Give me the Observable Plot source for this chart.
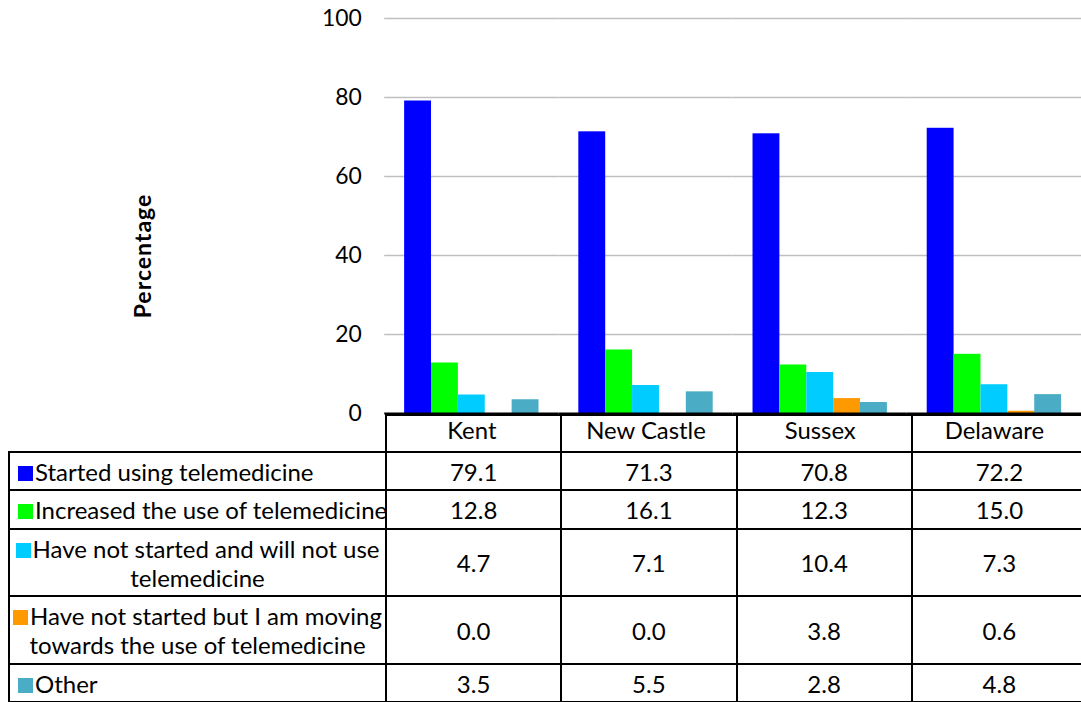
<!DOCTYPE html>
<html>
<head>
<meta charset="utf-8">
<script src="https://cdn.jsdelivr.net/npm/d3@7"></script>
<script src="https://cdn.jsdelivr.net/npm/@observablehq/plot@0.6"></script>
<style>
  html, body { margin: 0; padding: 0; background: #fff; overflow: hidden; }
  #wrap { position: relative; width: 1081px; height: 702px; overflow: hidden; font-family: Lato, sans-serif; color: #000; }
  #chart { position: absolute; left: 0; top: 0; }
  #ylabel { position: absolute; left: 142px; top: 256px; transform: translate(-50%, -50%) rotate(-90deg);
            font-weight: bold; font-size: 23px; letter-spacing: 1px; white-space: nowrap; }
  table { position: absolute; left: 8px; top: 414px; border-collapse: collapse; table-layout: fixed;
          font-size: 24px; width: 1078px; }
  td { border: 2px solid #000; padding: 0; vertical-align: middle; overflow: hidden; }
  td.lab { white-space: pre; padding-left: 8px; line-height: 29px; }
  td.lab.multi { text-align: center; padding-left: 0; }
  td.val { text-align: center; }
  td.blank { border-top: none; border-left: none; }
  .key { display: inline-block; width: 15px; height: 15px; margin-right: 2px; vertical-align: baseline; }
</style>
</head>
<body>
<div id="wrap">
  <div id="chart"></div>
  <div id="ylabel"></div>
  <table id="tbl"></table>
</div>
<script>
const regions = ["Kent", "New Castle", "Sussex", "Delaware"];
const series = [
  "Started using telemedicine",
  "Increased the use of telemedicine",
  "Have not started and will not use\ntelemedicine",
  "Have not started but I am moving\ntowards the use of telemedicine",
  "Other"
];
const colors = ["#0000FF", "#00FF00", "#00CCFF", "#FF9900", "#4BACC6"];
const started   = [79.1, 71.3, 70.8, 72.2];
const increased = [12.8, 16.1, 12.3, 15.0];
const willNot   = [4.7, 7.1, 10.4, 7.3];
const moving    = [0.0, 0.0, 3.8, 0.6];
const other     = [3.5, 5.5, 2.8, 4.8];
const values = [started, increased, willNot, moving, other];
const yTicks = [0, 20, 40, 60, 80, 100];
const yTitle = "Percentage";

const data = [];
series.forEach((s, i) => regions.forEach((r, j) => data.push({series: s, region: r, value: values[i][j]})));

const chart = Plot.plot({
  width: 1086,
  height: 451,
  marginLeft: 385,
  marginRight: 0,
  marginTop: 18,
  marginBottom: 36,
  style: {fontFamily: "Lato, sans-serif", fontSize: "23px", color: "#000", background: "transparent", overflow: "visible"},
  fx: {domain: regions, padding: 0, label: null, axis: null},
  x: {domain: series, axis: null, paddingInner: 0, paddingOuter: 0.68},
  y: {domain: [0, 100], label: null},
  color: {domain: series, range: colors},
  marks: [
    Plot.gridY(yTicks.filter(d => d > 0), {stroke: "#c0c0c0", strokeOpacity: 1, strokeWidth: 1.5}),
    Plot.axisY(yTicks, {tickSize: 0, tickPadding: 23, label: null}),
    Plot.axisFx({anchor: "bottom", tickSize: 0, tickPadding: 8, label: null, fontSize: 24}),
    Plot.barY(data, {fx: "region", x: "series", y: "value", fill: "series"}),
    Plot.ruleY([0], {stroke: "#000", strokeWidth: 2})
  ]
});
document.getElementById("chart").appendChild(chart);
document.getElementById("ylabel").textContent = yTitle;

// data table
const tbl = document.getElementById("tbl");
const colg = document.createElement("colgroup");
[377, 175.25, 175.25, 175.25, 175.25].forEach(w => {
  const c = document.createElement("col"); c.style.width = w + "px"; colg.appendChild(c);
});
tbl.appendChild(colg);
const rowHeights = [37, 38, 39, 67, 68, 38];
const fmt = d3.format(".1f");
const hr = document.createElement("tr");
hr.style.height = rowHeights[0] + "px";
const blank = document.createElement("td"); blank.className = "blank"; hr.appendChild(blank);
regions.forEach(() => { const td = document.createElement("td"); hr.appendChild(td); });
tbl.appendChild(hr);
series.forEach((s, i) => {
  const tr = document.createElement("tr");
  tr.style.height = rowHeights[i + 1] + "px";
  const lab = document.createElement("td");
  lab.className = "lab" + (s.includes("\n") ? " multi" : "");
  const key = document.createElement("span");
  key.className = "key"; key.style.background = colors[i];
  lab.appendChild(key);
  lab.appendChild(document.createTextNode(s));
  tr.appendChild(lab);
  values[i].forEach(v => {
    const td = document.createElement("td"); td.className = "val"; td.textContent = fmt(v); tr.appendChild(td);
  });
  tbl.appendChild(tr);
});
</script>
</body>
</html>
